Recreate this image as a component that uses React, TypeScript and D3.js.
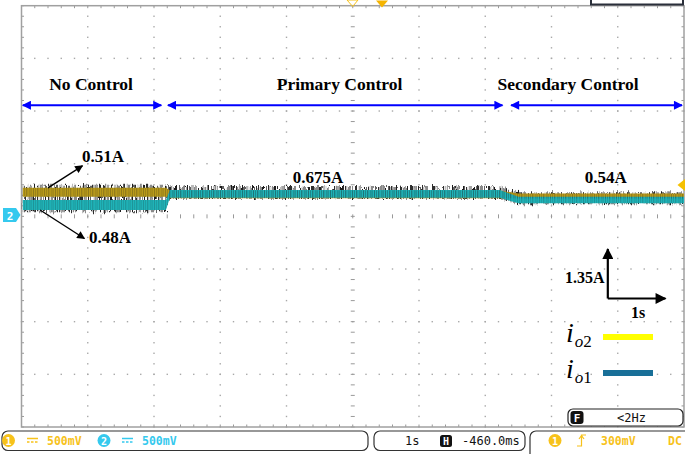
import React from 'react'
import * as d3 from 'd3'

// time breakpoints in seconds (1 s/div) and band envelopes in divisions (1.35 A/div)
const timeBreaks = [0.02, 2.18, 2.24, 7.22, 7.5, 10]
const io2Upper = [0.543, 0.543, 0.49, 0.49, 0.433, 0.433]
const io2Lower = [0.372, 0.372, 0.345, 0.345, 0.338, 0.338]
const io1Upper = [0.31, 0.31, 0.5, 0.5, 0.372, 0.372]
const io1Lower = [0.12, 0.12, 0.353, 0.353, 0.247, 0.247]
const noiseUpper = [0.6, 0.6, 0.575, 0.575, 0.46, 0.46]
const noiseLower = [0.08, 0.08, 0.33, 0.33, 0.232, 0.232]

const phaseNames = ['No Control', 'Primary Control', 'Secondary Control']
const phaseTextX = [1.05, 4.8, 8.25]
const phaseStart = [0.02, 2.21, 7.39]
const phaseEnd = [2.11, 7.26, 9.97]

const valueLabels = ['0.51A', '0.48A', '0.675A', '0.54A']
const valueLabelX = [0.913, 1.018, 4.095, 8.5]
const valueLabelY = [1.03, -0.507, 0.633, 0.633]

const W = 685
const H = 454
const YELLOW = '#b89a1a'
const TEAL = '#1fb3b8'
const SCOPE_YELLOW = '#f7c21a'
const SCOPE_CYAN = '#35c9ee'

export default function App() {
    const x = d3.scaleLinear().domain([0, 10]).range([21.5, 684])
    const y = d3.scaleLinear().domain([-4, 4]).range([427, 5.7])

    const band = (upper: number[], lower: number[]) =>
        d3.area<number>()
            .x((_, i) => x(timeBreaks[i]))
            .y0((_, i) => y(lower[i]))
            .y1((_, i) => y(upper[i]))(upper) || ''

    const minor = d3.range(0, 50.01, 1).map(d => d / 5)
    const minorY = d3.range(0, 40.01, 1).map(d => d / 5 - 4)

    const dots: JSX.Element[] = []
    d3.range(1, 10).filter(i => i !== 5).forEach(i => {
        minorY.forEach((v, k) => dots.push(
            <rect key={'v' + i + '-' + k} x={x(i) - 0.7} y={y(v) - 0.7} width={1.4} height={1.4} fill="#a8a8a8" />
        ))
    })
    d3.range(-3, 4).filter(j => j !== 0).forEach(j => {
        minor.forEach((t, k) => dots.push(
            <rect key={'h' + j + '-' + k} x={x(t) - 0.7} y={y(j) - 0.7} width={1.4} height={1.4} fill="#a8a8a8" />
        ))
    })

    const mono = "'DejaVu Sans Mono', monospace"
    const serif = "'Liberation Serif', 'Times New Roman', serif"

    return (
        <svg width={W} height={H} style={{ position: 'absolute', left: 0, top: 0, background: '#fff' }}>
            <defs>
                <pattern id="noise" width={11} height={60} patternUnits="userSpaceOnUse">
                    <rect x={0} y={0} width={1} height={60} fill="#1a1a1a" />
                    <rect x={2.2} y={0} width={0.7} height={60} fill="#1a1a1a" />
                    <rect x={4.1} y={0} width={1.2} height={60} fill="#1a1a1a" />
                    <rect x={6.9} y={0} width={0.6} height={60} fill="#1a1a1a" />
                    <rect x={8.6} y={0} width={0.9} height={60} fill="#1a1a1a" />
                </pattern>
                <filter id="jitter" x="-2%" y="-60%" width="104%" height="220%">
                    <feTurbulence type="fractalNoise" baseFrequency="0.9 0.05" numOctaves={2} seed={3} result="t" />
                    <feDisplacementMap in="SourceGraphic" in2="t" scale={6} xChannelSelector="R" yChannelSelector="G" />
                </filter>
                <marker id="blueHead" viewBox="0 0 10 10" refX={9} refY={5} markerWidth={11} markerHeight={9}
                    markerUnits="userSpaceOnUse" orient="auto-start-reverse">
                    <path d="M0,0 L10,5 L0,10 z" fill="#0000ff" />
                </marker>
                <marker id="blackHead" viewBox="0 0 10 10" refX={9} refY={5} markerWidth={10} markerHeight={8}
                    markerUnits="userSpaceOnUse" orient="auto">
                    <path d="M0,0 L10,5 L0,10 z" fill="#000" />
                </marker>
                <marker id="bigHead" viewBox="0 0 10 10" refX={9} refY={5} markerWidth={13} markerHeight={11}
                    markerUnits="userSpaceOnUse" orient="auto">
                    <path d="M0,0 L10,5 L0,10 z" fill="#000" />
                </marker>
            </defs>

            {/* grid */}
            <g>
                {dots}
                {minor.map((t, k) => (
                    <g key={'ct' + k}>
                        <line x1={x(t)} x2={x(t)} y1={y(0) - 2} y2={y(0) + 2} stroke="#999" strokeWidth={1} />
                        <line x1={x(t)} x2={x(t)} y1={y(4)} y2={y(4) + 2.5} stroke="#999" strokeWidth={1} />
                        <line x1={x(t)} x2={x(t)} y1={y(-4)} y2={y(-4) - 2.5} stroke="#999" strokeWidth={1} />
                    </g>
                ))}
                {minorY.map((v, k) => (
                    <g key={'cv' + k}>
                        <line x1={x(5) - 2} x2={x(5) + 2} y1={y(v)} y2={y(v)} stroke="#999" strokeWidth={1} />
                        <line x1={x(0)} x2={x(0) + 2.5} y1={y(v)} y2={y(v)} stroke="#999" strokeWidth={1} />
                        <line x1={x(10)} x2={x(10) - 2.5} y1={y(v)} y2={y(v)} stroke="#999" strokeWidth={1} />
                    </g>
                ))}
                <rect x={x(0)} y={y(4)} width={x(10) - x(0)} height={y(-4) - y(4)} fill="none" stroke="#a0a0a0" strokeWidth={1.5} />
            </g>

            {/* traces */}
            <path d={band(noiseUpper, noiseLower)} fill="url(#noise)" filter="url(#jitter)" />
            <path d={band(io2Upper, io2Lower)} fill={YELLOW} />
            <path d={band(io1Upper, io1Lower)} fill={TEAL} />
            <path d={band(io2Upper, io2Lower)} fill="url(#noise)" opacity={0.25} />
            <path d={band(io1Upper, io1Lower)} fill="url(#noise)" opacity={0.2} />

            {/* phase annotations */}
            {phaseNames.map((name, i) => (
                <g key={name}>
                    <text x={x(phaseTextX[i])} y={y(2.4)} textAnchor="middle" fontFamily={serif}
                        fontWeight="bold" fontSize={17.5} fill="#000">{name}</text>
                    <line x1={x(phaseStart[i])} x2={x(phaseEnd[i])} y1={y(2.11)} y2={y(2.11)} stroke="#0000ff"
                        strokeWidth={2} markerStart="url(#blueHead)" markerEnd="url(#blueHead)" />
                </g>
            ))}

            {valueLabels.map((lab, i) => (
                <text key={lab} x={x(valueLabelX[i])} y={y(valueLabelY[i])} fontFamily={serif} fontWeight="bold"
                    fontSize={17} fill="#000">{lab}</text>
            ))}
            <line x1={x(0.4)} y1={y(0.54)} x2={x(0.92)} y2={y(0.96)} stroke="#000" strokeWidth={1.4} markerEnd="url(#blackHead)" />
            <line x1={x(0.28)} y1={y(0.12)} x2={x(0.95)} y2={y(-0.42)} stroke="#000" strokeWidth={1.4} markerEnd="url(#blackHead)" />

            {/* scale indicator */}
            <line x1={x(8.85)} y1={y(-1.56)} x2={x(8.85)} y2={y(-0.62)} stroke="#000" strokeWidth={2.2} markerEnd="url(#bigHead)" />
            <line x1={x(8.85)} y1={y(-1.56)} x2={x(9.72)} y2={y(-1.56)} stroke="#000" strokeWidth={2.2} markerEnd="url(#bigHead)" />
            <text x={x(8.8)} y={y(-1.27)} textAnchor="end" fontFamily={serif} fontWeight="bold" fontSize={16} fill="#000">1.35A</text>
            <text x={x(9.2)} y={y(-1.93)} fontFamily={serif} fontWeight="bold" fontSize={16} fill="#000">1s</text>

            {/* legend */}
            <text x={566} y={342} fontFamily={serif} fontStyle="italic" fontSize={28} fill="#000">i
                <tspan fontSize={17} dx={1} dy={5}>o</tspan><tspan fontSize={17} fontStyle="normal">2</tspan>
            </text>
            <line x1={603} x2={653} y1={337} y2={337} stroke="#ffff00" strokeWidth={6} />
            <text x={566} y={378} fontFamily={serif} fontStyle="italic" fontSize={28} fill="#000">i
                <tspan fontSize={17} dx={1} dy={5}>o</tspan><tspan fontSize={17} fontStyle="normal">1</tspan>
            </text>
            <line x1={603} x2={653} y1={373} y2={373} stroke="#186f98" strokeWidth={6} />

            {/* scope markers */}
            <polygon points="347,0 358,0 352.7,6.5" fill="none" stroke={SCOPE_YELLOW} strokeWidth={1} />
            <polygon points="376,0.5 388,0.5 382,7.5" fill="#f5b400" />
            <path d="M591,0 L591,4.5 L683,4.5 L683,0" fill="none" stroke="#2a2f3a" strokeWidth={2} />
            <polygon points="685,179 685,191 677.5,185" fill="#f5c000" />
            <polygon points="3,208 16,208 20.5,215 16,222 3,222" fill={SCOPE_CYAN} />
            <text x={10} y={219.5} textAnchor="middle" fontFamily={mono} fontWeight="bold" fontSize={11} fill="#fff">2</text>

            {/* F box */}
            <rect x={568} y={409} width={115} height={17} rx={5} fill="#fff" stroke="#222" strokeWidth={1.2} />
            <rect x={570.5} y={411} width={13} height={13} rx={3} fill="#111" />
            <text x={577} y={421.5} textAnchor="middle" fontFamily={mono} fontWeight="bold" fontSize={11} fill="#fff">F</text>
            <text x={617} y={422} fontFamily={mono} fontSize={12} fill="#111">&lt;2Hz</text>

            {/* status bar */}
            <rect x={2} y={431} width={366} height={19.5} rx={6} fill="#fff" stroke="#333" strokeWidth={1.2} />
            <circle cx={8.5} cy={440.5} r={6.5} fill={SCOPE_YELLOW} />
            <text x={8.5} y={444.5} textAnchor="middle" fontFamily={mono} fontWeight="bold" fontSize={10} fill="#fff">1</text>
            <line x1={27} x2={38} y1={438.5} y2={438.5} stroke={SCOPE_YELLOW} strokeWidth={1.5} />
            <line x1={27} x2={38} y1={442} y2={442} stroke={SCOPE_YELLOW} strokeWidth={1.5} strokeDasharray="2.5,1.5" />
            <text x={47} y={445} fontFamily={mono} fontWeight="bold" fontSize={11.5} fill={SCOPE_YELLOW}>500mV</text>
            <circle cx={104} cy={440.5} r={6.5} fill={SCOPE_CYAN} />
            <text x={104} y={444.5} textAnchor="middle" fontFamily={mono} fontWeight="bold" fontSize={10} fill="#fff">2</text>
            <line x1={122} x2={133} y1={438.5} y2={438.5} stroke={SCOPE_CYAN} strokeWidth={1.5} />
            <line x1={122} x2={133} y1={442} y2={442} stroke={SCOPE_CYAN} strokeWidth={1.5} strokeDasharray="2.5,1.5" />
            <text x={142} y={445} fontFamily={mono} fontWeight="bold" fontSize={11.5} fill={SCOPE_CYAN}>500mV</text>

            <rect x={374} y={431} width={151} height={19.5} rx={6} fill="#fff" stroke="#333" strokeWidth={1.2} />
            <text x={405} y={445} fontFamily={mono} fontSize={12} fill="#111">1s</text>
            <rect x={440} y={435} width={12} height={12} rx={2.5} fill="#111" />
            <text x={446} y={444.5} textAnchor="middle" fontFamily={mono} fontWeight="bold" fontSize={10} fill="#fff">H</text>
            <text x={462} y={445} fontFamily={mono} fontSize={12} fill="#111">-460.0ms</text>

            <rect x={530} y={431} width={170} height={30} rx={6} fill="#fff" stroke="#333" strokeWidth={1.2} />
            <circle cx={555} cy={440.5} r={6.5} fill={SCOPE_YELLOW} />
            <text x={555} y={444.5} textAnchor="middle" fontFamily={mono} fontWeight="bold" fontSize={10} fill="#fff">1</text>
            <path d="M577,446 L581.5,446 L581.5,435 L586,435 M579,439 L581.5,435.5 L584,439" fill="none" stroke={SCOPE_YELLOW} strokeWidth={1.2} />
            <text x={601} y={445} fontFamily={mono} fontWeight="bold" fontSize={11.5} fill={SCOPE_YELLOW}>300mV</text>
            <text x={668} y={445} fontFamily={mono} fontWeight="bold" fontSize={11.5} fill={SCOPE_YELLOW}>DC</text>
        </svg>
    )
}
